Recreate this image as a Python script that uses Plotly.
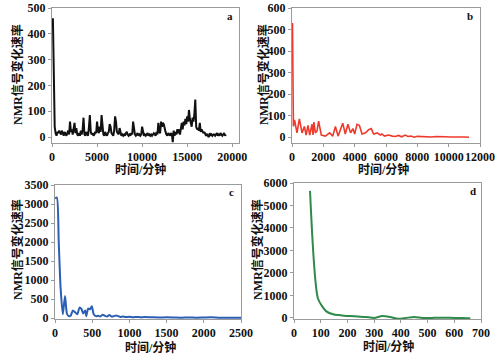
import plotly.graph_objects as go

# ---------------- data ----------------
# panel a (black)
a_time = [100, 200, 300, 400] + list(range(500, 19400, 100))
a_rate = [460, 150, 40, 15,
          5, 20, 15, 25, 20,
          10, 25, 15, 5, 20, 10, 5, 15, 25, 10,
          60, 20, 30, 10, 40, 55, 15, 35, 10, 5,
          15, 5, 25, 10, 30, 75, 10, 5, 20, 15,
          5, 40, 85, 20, 10, 15, 5, 10, 20, 15,
          60, 25, 15, 40, 20, 85, 30, 10, 5, 20,
          10, 5, 15, 20, 50, 40, 15, 10, 5, 25,
          80, 60, 20, 15, 10, 35, 15, 5, 10, 5,
          10, 5, 15, 20, 10, 5, 10, 5, 15, 10,
          60, 30, 10, 5, 10, 15, 5, 10, 5, 10,
          40, 10, 5, 10, 5, 10, 15, 5, 10, 5,
          10, 5, 10, 15, 10, 5, 20, 10, 55, 20,
          15, 60, 40, 55, 50, 30, 20, 10, 5, 15,
          10, 5, 15, 10, -20, 25, 5, 20, 10, 30,
          15, 30, 10, 40, 55, 30, 60, 45, 70, 50,
          80, 60, 105, 70, 55, 40, 75, 60, 90, 145,
          40, 30, 35, 25, 55, 20, 30, 25, 15, 20,
          10, 5, 10, 5, 0, 15, 5, 10, 5, 10,
          10, 5, 10, 15, 5, 10, 5, 15, 10, 5,
          10, 15, 5, 10]

# panel b (red)
b_time = [30, 90, 160, 230, 320, 470, 640, 790, 900, 1020, 1130, 1280, 1340, 1400,
          1490, 1600, 1700, 1870, 2130, 2400, 2600, 2770, 2940, 3240, 3400, 3570,
          3740, 3890, 4000, 4150, 4300, 4470, 4700, 4890, 5060, 5210, 5430, 5640,
          5740, 5900, 6000, 6170, 6400, 6600, 6800, 7000, 7230, 7400, 7600, 7800,
          8000, 8300, 8600, 8900, 9200, 9500, 9800, 10100, 10400, 10700, 11000, 11300]
b_rate = [530, 50, 80, 45, 20, 85, 20, 50, 10, 55, 10, 60, 10, 70,
          20, 30, 75, 10, 5, 20, 5, 50, 5, 65, 15, 60,
          20, 40, 15, 60, 55, 15, 20, 35, 40, 15, 20, 10,
          15, 5, 8, 10, 5, 3, 8, 2, 10, 3, 5, 0,
          4, 2, 3, 1, 3, 1, 2, 1, 2, 0, 1, 0]

# panel c (blue)
c_time = [0, 25, 50, 75, 105, 135, 160, 185, 210, 240, 270, 300, 330, 355, 380,
          405, 420, 445, 470, 495, 520, 550, 580, 610, 640, 670, 700, 730, 760,
          790, 820, 850, 880, 910, 950, 1000, 1050, 1100, 1150, 1200, 1300, 1400,
          1500, 1600, 1700, 1800, 1900, 2000, 2100, 2200, 2300, 2400, 2500]
c_rate = [3150, 3170, 2000, 800, 100, 580, 120, 50, 60, 200, 150, 100, 280, 240, 120,
          200, 50, 250, 230, 310, 100, 50, 60, 40, 90, 60, 40, 80, 40,
          50, 70, 50, 30, 40, 25, 35, 20, 30, 20, 25, 20, 15,
          20, 15, 10, 15, 10, 15, 20, 10, 8, 10, 8]

# panel d (green)
d_time = [60, 90, 120, 150, 180, 210, 240, 270, 300, 330, 360, 390, 420, 450,
          480, 510, 540, 570, 600, 630, 660]
d_rate = [5650, 850, 300, 150, 110, 80, 60, 40, 0, 80, 40, -40, 0, 40,
          0, -10, 10, 5, 0, -5, -20]

y_title = "NMR信号变化速率"
x_title = "时间/分钟"
panel_labels = ["a", "b", "c", "d"]

# ---------------- figure ----------------
W, H = 501, 356
def dx(px): return px / W
def dy(py): return 1 - py / H

SERIF = "Liberation Serif, Times New Roman, Noto Sans CJK SC, serif"
tickfont = dict(family=SERIF, size=12, color="#111", weight="bold")
FRAME = "#9a9a9a"

panels = [
    dict(x=a_time, y=a_rate, color="#111111", width=2.0, shape="linear",
         xd=[52, 239], yd=[143, 8], xr=[0, 20750], yr=[-23, 500],
         xt=[0, 5000, 10000, 15000, 20000], yt=[0, 100, 200, 300, 400, 500],
         ytitle=(17, 75), xtitle=(140, 170), lab=(230, 16)),
    dict(x=b_time, y=b_rate, color="#ee3a2c", width=1.6, shape="linear",
         xd=[292, 480], yd=[143, 8], xr=[0, 12000], yr=[-27, 600],
         xt=list(range(0, 12001, 2000)), yt=list(range(0, 601, 100)),
         ytitle=(263, 75), xtitle=(383, 169), lab=(470, 16)),
    dict(x=c_time, y=c_rate, color="#2a5fb4", width=2.0, shape="spline",
         xd=[55, 241], yd=[319, 185], xr=[0, 2500], yr=[-25, 3500],
         xt=list(range(0, 2501, 500)), yt=list(range(0, 3501, 500)),
         ytitle=(17, 250), xtitle=(150, 347), lab=(231, 192)),
    dict(x=d_time, y=d_rate, color="#2e8b4a", width=2.0, shape="spline",
         xd=[294, 481], yd=[319, 183], xr=[0, 700], yr=[-50, 6000],
         xt=list(range(0, 701, 100)), yt=list(range(0, 6001, 1000)),
         ytitle=(257, 250), xtitle=(388, 346), lab=(473, 191)),
]

fig = go.Figure()
layout = dict(width=W, height=H, margin=dict(l=0, r=0, t=0, b=0, autoexpand=False),
              paper_bgcolor="white", plot_bgcolor="white", showlegend=False)
annotations = []
for i, p in enumerate(panels):
    n = "" if i == 0 else str(i + 1)
    fig.add_trace(go.Scatter(x=p["x"], y=p["y"], mode="lines",
                             line=dict(color=p["color"], width=p["width"], shape=p["shape"],
                                       smoothing=0.6),
                             xaxis="x" + n, yaxis="y" + n))
    common = dict(showline=True, linecolor=FRAME, linewidth=1, mirror=True,
                  ticks="outside", ticklen=3, tickcolor=FRAME, showgrid=False,
                  zeroline=False, tickfont=tickfont, automargin=False, tickformat="d",
                  tickangle=0)
    layout["xaxis" + n] = dict(domain=[dx(p["xd"][0]), dx(p["xd"][1])], range=p["xr"],
                               tickvals=p["xt"], anchor="y" + n, **common)
    layout["yaxis" + n] = dict(domain=[dy(p["yd"][0]), dy(p["yd"][1])], range=p["yr"],
                               tickvals=p["yt"], anchor="x" + n, **common)
    ann_common = dict(xref="paper", yref="paper", showarrow=False,
                      xanchor="center", yanchor="middle")
    annotations.append(dict(text=y_title, x=dx(p["ytitle"][0]), y=dy(p["ytitle"][1]),
                            textangle=-90,
                            font=dict(family=SERIF, size=12, color="#111", weight="bold"),
                            **ann_common))
    annotations.append(dict(text=x_title, x=dx(p["xtitle"][0]), y=dy(p["xtitle"][1]),
                            font=dict(family=SERIF, size=12, color="#111", weight="bold"),
                            **ann_common))
    annotations.append(dict(text=panel_labels[i], x=dx(p["lab"][0]), y=dy(p["lab"][1]),
                            font=dict(family=SERIF, size=11, color="#111", weight="bold"),
                            **ann_common))
layout["annotations"] = annotations
fig.update_layout(**layout)
fig.write_html("out.html", config={"displayModeBar": False},
               post_script="document.body.style.margin='0';document.body.style.overflow='hidden';")
